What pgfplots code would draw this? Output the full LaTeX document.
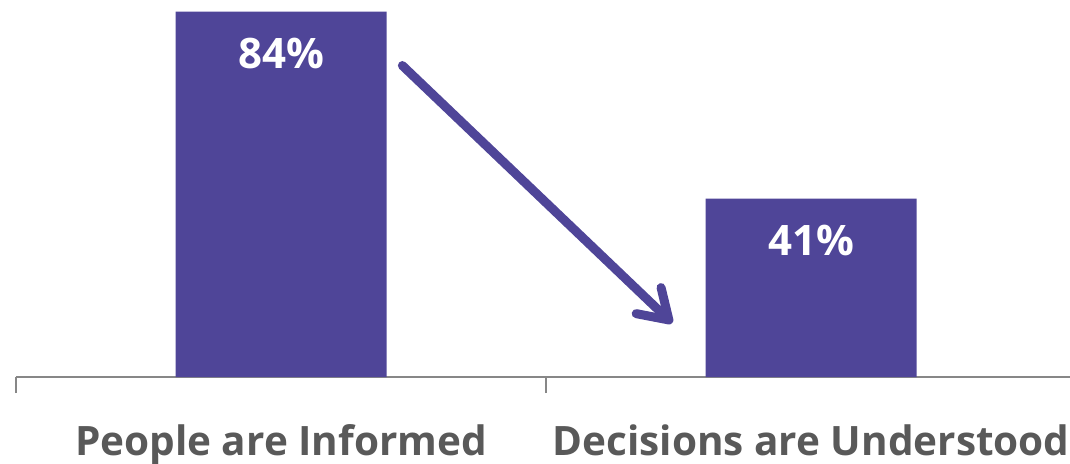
\documentclass[border=0pt]{standalone}
\usepackage{pgfplots}
\pgfplotsset{compat=1.18}
\usepackage{fontspec}
\setmainfont{Open Sans}
\usetikzlibrary{arrows.meta}

\definecolor{barpurple}{RGB}{79,69,152}
\definecolor{labelgray}{RGB}{89,89,89}
\definecolor{axisgray}{RGB}{135,135,135}

\begin{document}
\begin{tikzpicture}
\begin{axis}[
    at={(0,0)}, anchor=south west,
    scale only axis,
    width=1060pt, height=391.5pt,
    xmin=-0.5, xmax=1.5,
    ymin=0, ymax=90,
    axis x line=bottom,
    axis y line=none,
    axis line style={draw=axisgray, line width=2pt, -},
    xtick={-0.5,0.5,1.5},
    xticklabels={},
    tick align=outside,
    major tick length=16pt,
    every tick/.style={draw=axisgray, line width=2pt},
    ytick=\empty,
    ybar,
    bar width=211pt,
    clip=false,
    /pgf/number format/assume math mode=true,
    nodes near coords={\pgfmathprintnumber{\pgfplotspointmeta}\%},
    every node near coord/.append style={
        anchor=base, yshift=-57pt, text=white,
        font=\fontsize{42}{48}\selectfont\bfseries},
]
\addplot[fill=barpurple, draw=none] coordinates {(0,84) (1,41)};

% category labels
\node[anchor=base, text=labelgray, font=\fontsize{40.5}{48}\selectfont\bfseries]
    at ([yshift=-78pt]axis cs:0,0) {People are Informed};
\node[anchor=base, text=labelgray, font=\fontsize{40.5}{48}\selectfont\bfseries]
    at ([yshift=-78pt]axis cs:1,0) {Decisions are Understood};

% decline arrow
\draw[barpurple, line width=9pt, line cap=round,
      -{Straight Barb[length=28pt, width=36pt, line cap=round, line join=round]}]
    (axis cs:0.229,71.6) -- (axis cs:0.738,12.4);
\end{axis}
\pgfresetboundingbox
\useasboundingbox (-16pt,-86pt) rectangle (1054pt,377pt);
\end{tikzpicture}
\end{document}
